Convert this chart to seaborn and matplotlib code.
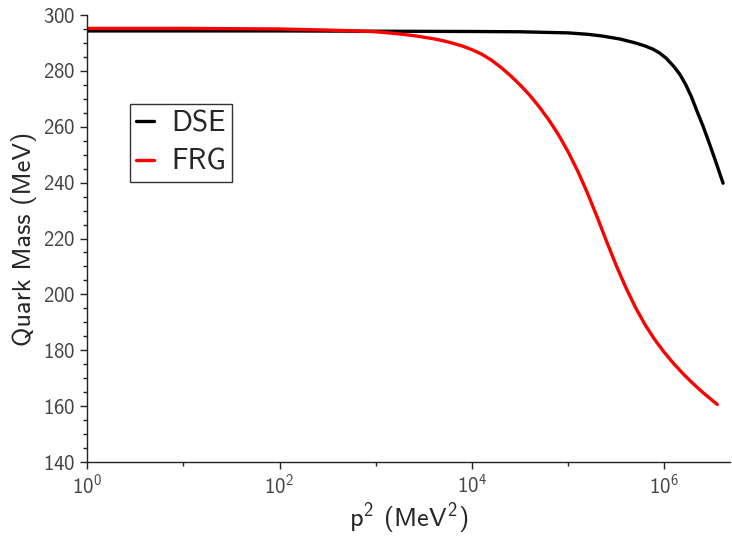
import numpy as np
import pandas as pd
import matplotlib
matplotlib.use("Agg")
import matplotlib.pyplot as plt
import matplotlib.ticker as mticker
import seaborn as sns

# 読み取った値 (log10 p^2, MeV)
dse_logp2 = [0.0, 2.0, 3.0, 4.0, 4.5, 5.0, 5.2, 5.35, 5.54, 5.7, 5.8, 5.88, 5.95,
             6.02, 6.1, 6.16, 6.22, 6.28, 6.34, 6.4, 6.47, 6.54, 6.61]
dse_mass = [294.3, 294.3, 294.2, 294.1, 294.0, 293.6, 293.1, 292.5, 291.4, 290.0,
            288.9, 287.8, 286.4, 284.5, 281.5, 278.8, 275.2, 270.8, 265.5, 260.4,
            253.8, 246.9, 239.8]

frg_logp2 = [0.0, 1.0, 2.0, 2.5, 2.8, 3.0, 3.2, 3.4, 3.6, 3.7, 3.8, 3.9, 4.0,
             4.1, 4.2, 4.3, 4.4, 4.5, 4.6, 4.7, 4.8, 4.9, 5.0, 5.1, 5.2, 5.3,
             5.4, 5.5, 5.6, 5.7, 5.8, 5.9, 6.0, 6.1, 6.2, 6.3, 6.4, 6.5, 6.55]
frg_mass = [295.2, 295.2, 295.0, 294.6, 294.3, 294.0, 293.4, 292.6, 291.5, 290.8,
            289.9, 288.9, 287.6, 286.0, 283.9, 281.3, 278.3, 275.0, 271.3, 267.1,
            262.4, 257.1, 251.0, 244.1, 236.3, 227.8, 218.9, 210.3, 202.4, 195.3,
            189.1, 183.8, 179.2, 175.1, 171.4, 168.0, 164.9, 162.0, 160.6]

labels = ["DSE", "FRG"]
colors = ["black", "red"]

df = pd.concat([
    pd.DataFrame({"p2": 10.0 ** np.array(dse_logp2), "mass": dse_mass, "model": "DSE"}),
    pd.DataFrame({"p2": 10.0 ** np.array(frg_logp2), "mass": frg_mass, "model": "FRG"}),
])

sns.set_style("ticks")
plt.rcParams["font.family"] = ["cmss10", "DejaVu Sans"]
plt.rcParams["mathtext.default"] = "regular"
plt.rcParams["axes.formatter.use_mathtext"] = True
plt.rcParams["axes.unicode_minus"] = False

fig = plt.figure(figsize=(7.32, 5.36), dpi=100)
ax = fig.add_axes([0.119, 0.138, 0.878, 0.834])

sns.lineplot(data=df, x="p2", y="mass", hue="model", palette=dict(zip(labels, colors)),
             linewidth=2.4, ax=ax, sort=False)

ax.set_xscale("log")
ax.set_xlim(1, 10 ** 6.68)
ax.set_ylim(140, 300)

ax.xaxis.set_major_locator(mticker.FixedLocator([1, 1e2, 1e4, 1e6]))
ax.xaxis.set_minor_locator(mticker.FixedLocator([1e1, 1e3, 1e5]))
ax.xaxis.set_major_formatter(mticker.LogFormatterSciNotation())
ax.xaxis.set_minor_formatter(mticker.NullFormatter())
ax.yaxis.set_major_locator(mticker.MultipleLocator(20))
ax.yaxis.set_minor_locator(mticker.MultipleLocator(5))

ax.tick_params(which="major", length=5, width=1, labelsize=15, labelcolor="#444444", color="#222222")
ax.tick_params(which="minor", length=3, width=1, color="#222222")

sns.despine(ax=ax)
for side in ["left", "bottom"]:
    ax.spines[side].set_linewidth(1.0)
    ax.spines[side].set_color("#222222")

ax.set_xlabel("p$^2$ (MeV$^2$)", fontsize=19, labelpad=2)
ax.set_ylabel("Quark Mass (MeV)", fontsize=19, labelpad=4)

leg = ax.legend(loc="upper left", bbox_to_anchor=(0.067, 0.80), fontsize=21,
                frameon=True, fancybox=False, edgecolor="black", handlelength=0.6,
                handletextpad=0.6, borderpad=0.2, labelspacing=0.4, borderaxespad=0)
leg.get_frame().set_linewidth(1.0)
for line in leg.get_lines():
    line.set_linewidth(2.4)

fig.savefig("out.png", dpi=100)
